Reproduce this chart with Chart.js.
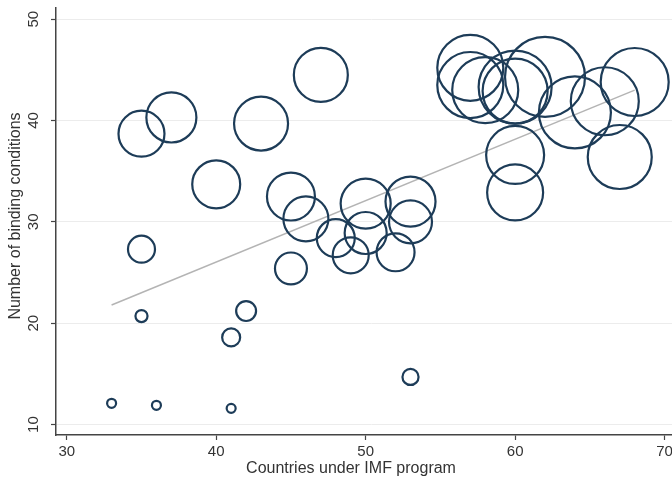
<!DOCTYPE html>
<html>
<head>
<meta charset="utf-8">
<script src="https://cdn.jsdelivr.net/npm/chart.js@4.4.1/dist/chart.umd.min.js"></script>
<style>
  html, body { margin: 0; padding: 0; background: #fff; overflow: hidden; }
  #wrap { width: 700px; height: 484px; }
</style>
</head>
<body>
<div id="wrap"><canvas id="imfChart" width="700" height="484"></canvas></div>
<script>
// countries under IMF program (x), number of binding conditions (y), bubble weight
const countries = [33, 36, 41, 53, 41, 35, 42, 35, 45,
                   35, 37, 40, 43, 47, 45, 46, 48, 49,
                   50, 50, 53, 53, 52, 60, 60,
                   57, 57, 58, 60, 60, 62, 64, 66, 68, 67];
const conditions = [12.1, 11.9, 11.6, 14.7, 18.6, 20.7, 21.2, 27.3, 25.4,
                    38.7, 40.3, 33.7, 39.7, 44.5, 32.5, 30.3, 28.4, 26.7,
                    31.8, 28.9, 32.0, 30.0, 27.0, 36.6, 32.9,
                    45.2, 43.5, 43.0, 43.3, 42.9, 44.3, 40.8, 41.9, 43.8, 36.4];
const weights = [1, 1, 1, 3.2, 4, 1.8, 4.9, 9, 12.6,
                 26.1, 30.9, 28.4, 36, 36, 28.4, 25, 17.8, 16,
                 30.9, 21.8, 30.9, 22.8, 17.8, 41.5, 38.7,
                 53.8, 53.8, 53.8, 65.8, 52.2, 79, 64, 57.1, 57.1, 50.6];

// fitted line, end points
const fitX = [33, 68];
const fitY = [21.8, 43.0];

const xTicks = [30, 40, 50, 60, 70];
const yTicks = [10, 20, 30, 40, 50];

const navy = '#1d3c58';
const fontFamily = '"Liberation Sans", Arial, sans-serif';

const points = countries.map((c, i) => ({ x: c, y: conditions[i], r: 4.5 * Math.sqrt(weights[i]) }));
const fitLine = fitX.map((v, i) => ({ x: v, y: fitY[i] }));

// axis titles drawn by hand so they sit where the original has them
const titlesPlugin = {
    id: 'axisTitles',
    afterDraw(chart) {
        const c = chart.ctx;
        c.save();
        c.font = '16px ' + fontFamily;
        c.fillStyle = '#333';
        c.textAlign = 'center';
        c.textBaseline = 'middle';
        c.fillText('Countries under IMF program', 351, 469);
        c.translate(16, 216);
        c.rotate(-Math.PI / 2);
        c.fillText('Number of binding conditions', 0, 0);
        c.restore();
    }
};

// stop chart.js from adding room for the edge labels
function fixPadding(s) {
    s.paddingTop = 0;
    s.paddingBottom = 0;
    s.paddingLeft = 0;
    s.paddingRight = 0;
}

const ctx = document.getElementById('imfChart');
const imfChart = new Chart(ctx, {
    type: 'bubble',
    data: {
        datasets: [
            {
                type: 'bubble',
                data: points,
                backgroundColor: 'rgba(0,0,0,0)',
                borderColor: navy,
                borderWidth: 2.2,
                order: 1
            },
            {
                type: 'line',
                data: fitLine,
                borderColor: '#b4b4b4',
                borderWidth: 1.5,
                pointRadius: 0,
                fill: false,
                order: 2
            }
        ]
    },
    options: {
        responsive: false,
        animation: false,
        layout: { autoPadding: false, padding: { top: 8, right: 13, left: 0, bottom: 0 } },
        plugins: {
            legend: { display: false },
            tooltip: { enabled: false }
        },
        scales: {
            x: {
                type: 'linear',
                min: 29.28,
                max: 71.5,
                afterBuildTicks: s => { s.ticks = xTicks.map(v => ({ value: v })); },
                afterFit: s => { s.height = 49; fixPadding(s); },
                grid: { drawOnChartArea: false, tickLength: 5, tickColor: '#444', tickWidth: 1.2 },
                border: { color: '#444', width: 1.5 },
                ticks: { color: '#333', font: { family: fontFamily, size: 15 }, padding: 3, maxRotation: 0 }
            },
            y: {
                type: 'linear',
                min: 8.97,
                max: 51.1,
                afterBuildTicks: s => { s.ticks = yTicks.map(v => ({ value: v })); },
                afterFit: s => { s.width = 56; fixPadding(s); },
                grid: { color: '#ececec', lineWidth: 1, tickLength: 5, tickColor: '#444', tickWidth: 1.2 },
                border: { color: '#444', width: 1.5 },
                ticks: {
                    color: '#333',
                    font: { family: fontFamily, size: 15 },
                    minRotation: 90,
                    maxRotation: 90,
                    crossAlign: 'center',
                    padding: 9
                }
            }
        }
    },
    plugins: [titlesPlugin]
});
</script>
</body>
</html>
